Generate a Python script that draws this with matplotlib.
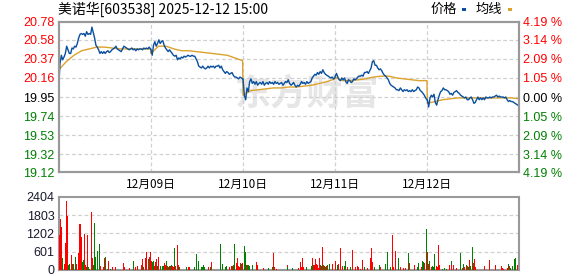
import numpy as np
import matplotlib
matplotlib.use('Agg')
import matplotlib.pyplot as plt
from matplotlib.patches import Rectangle

plt.rcParams['font.family'] = ['Noto Sans CJK SC', 'DejaVu Sans']

# ---------------- data ----------------
title_text = '美诺华[603538] 2025-12-12 15:00'
legend_price = '价格'
legend_avg = '均线'
watermark = '东方财富'
prev_close = 19.95
price_ticks = [20.78, 20.58, 20.37, 20.16, 19.95, 19.74, 19.53, 19.32, 19.12]
pct_labels = ['4.19 %', '3.14 %', '2.09 %', '1.05 %', '0.00 %',
              '1.05 %', '2.09 %', '3.14 %', '4.19 %']
date_labels = ['12月09日', '12月10日', '12月11日', '12月12日']
vol_ticks = [0, 601, 1202, 1803, 2404]
minutes_per_day = 240
n_days = 5

price_day1 = [20.06, 20.32, 20.41, 20.36, 20.39, 20.43, 20.51, 20.47, 20.43, 20.43,
              20.49, 20.48, 20.51, 20.50, 20.54, 20.60, 20.64, 20.65, 20.64, 20.65,
              20.62, 20.67, 20.64, 20.65, 20.64, 20.72, 20.66, 20.60, 20.52, 20.50,
              20.47, 20.43, 20.45, 20.43, 20.45, 20.43, 20.45, 20.46, 20.44, 20.45,
              20.47, 20.48, 20.49, 20.51, 20.48, 20.47, 20.46, 20.45, 20.48, 20.51,
              20.50, 20.49, 20.48, 20.47, 20.48, 20.49, 20.47, 20.48, 20.46, 20.48,
              20.47, 20.48, 20.48, 20.47, 20.49, 20.48, 20.49, 20.48, 20.50, 20.48]
price_day2 = [20.48, 20.41, 20.52, 20.56, 20.51, 20.54, 20.58, 20.54, 20.56, 20.57,
              20.52, 20.49, 20.47, 20.45, 20.47, 20.45, 20.43, 20.41, 20.40, 20.41,
              20.36, 20.38, 20.37, 20.39, 20.38, 20.40, 20.39, 20.40, 20.41, 20.40,
              20.40, 20.41, 20.40, 20.40, 20.37, 20.34, 20.29, 20.28, 20.27, 20.29,
              20.27, 20.26, 20.27, 20.29, 20.27, 20.29, 20.28, 20.29, 20.27, 20.29,
              20.29, 20.30, 20.27, 20.29, 20.25, 20.23, 20.21, 20.23, 20.22, 20.20,
              20.21, 20.22, 20.19, 20.17, 20.17, 20.16, 20.15, 20.17, 20.16, 20.15]
price_day3 = [20.15, 19.97, 19.92, 20.05, 20.01, 20.12, 20.15, 20.10, 20.12, 20.09,
              20.12, 20.08, 20.10, 20.11, 20.09, 20.12, 20.08, 20.10, 20.11, 20.09,
              20.12, 20.10, 20.11, 20.09, 20.12, 20.10, 20.11, 20.09, 20.10, 20.11,
              20.08, 20.10, 20.12, 20.11, 20.14, 20.10, 20.08, 20.09, 20.11, 20.08,
              20.06, 20.08, 20.07, 20.09, 20.12, 20.10, 20.11, 20.09, 20.12, 20.10,
              20.11, 20.12, 20.16, 20.18, 20.20, 20.19, 20.22, 20.20, 20.23, 20.21,
              20.25, 20.22, 20.20, 20.19, 20.18, 20.17, 20.16, 20.17, 20.15, 20.16]
price_day4 = [20.18, 20.21, 20.17, 20.14, 20.13, 20.16, 20.14, 20.16, 20.12, 20.10,
              20.14, 20.13, 20.11, 20.12, 20.15, 20.14, 20.15, 20.17, 20.18, 20.18,
              20.19, 20.18, 20.22, 20.22, 20.23, 20.21, 20.24, 20.27, 20.34, 20.35,
              20.30, 20.30, 20.27, 20.25, 20.26, 20.24, 20.21, 20.19, 20.18, 20.16,
              20.14, 20.10, 20.08, 20.07, 20.06, 20.05, 20.03, 20.03, 20.02, 20.05,
              20.03, 20.01, 20.03, 20.02, 20.03, 20.01, 20.02, 20.01, 20.03, 20.01,
              20.02, 20.03, 20.06, 20.05, 20.02, 20.01, 19.99, 19.97, 19.94, 19.92]
price_day5 = [19.92, 19.84, 19.94, 19.97, 19.95, 19.98, 19.89, 19.86, 19.92, 19.97,
              20.01, 20.02, 20.05, 20.03, 20.03, 20.02, 20.01, 19.98, 19.99, 19.97,
              20.00, 20.01, 20.02, 20.00, 19.99, 19.97, 19.96, 19.95, 19.94, 19.95,
              19.92, 19.92, 19.94, 19.95, 19.92, 19.88, 19.89, 19.92, 19.95, 19.92,
              19.94, 19.92, 19.94, 19.92, 19.95, 19.94, 19.94, 19.95, 19.94, 19.95,
              19.95, 19.96, 19.97, 19.95, 19.96, 19.95, 19.95, 19.95, 19.94, 19.95,
              19.92, 19.90, 19.91, 19.90, 19.90, 19.89, 19.88, 19.87, 19.86, 19.86]

avg_day1 = [20.25, 20.34, 20.41, 20.46, 20.48, 20.50, 20.50, 20.49, 20.48, 20.48, 20.48, 20.48, 20.48]
avg_day2 = [20.43, 20.51, 20.51, 20.48, 20.46, 20.46, 20.45, 20.44, 20.43, 20.42, 20.41, 20.38, 20.35]
avg_day3 = [19.97, 20.02, 20.03, 20.04, 20.05, 20.05, 20.06, 20.06, 20.07, 20.08, 20.10, 20.12, 20.15]
avg_day4 = [20.17, 20.13, 20.13, 20.14, 20.15, 20.17, 20.18, 20.18, 20.16, 20.15, 20.14, 20.13, 20.13]
avg_day5 = [19.88, 19.90, 19.92, 19.93, 19.94, 19.94, 19.94, 19.94, 19.94, 19.94, 19.94, 19.94, 19.93]

# volume bars: minute index (0..1199), volume, colour (r = up, g = down)
vol_minute = [2, 4, 7, 10, 14, 18, 21, 23, 26, 29, 33, 36, 38, 43, 46, 51, 54, 57, 60, 62,
              65, 68, 70, 73, 75, 78, 81, 86, 88, 91, 94, 96, 100, 102, 105, 107, 110, 116, 119, 121,
              126, 130, 135, 139, 144, 149, 168, 171, 178, 184, 194, 199, 205, 209, 216, 218, 222, 225, 228, 230,
              234, 236, 240, 242, 245, 248, 250, 253, 255, 258, 261, 265, 270, 273, 276, 279, 281, 284, 287, 289,
              292, 294, 297, 300, 302, 305, 310, 313, 315, 332, 338, 340, 353, 360, 363, 365, 368, 372, 375, 377,
              380, 390, 395, 397, 421, 426, 434, 436, 444, 449, 452, 455, 457, 462, 465, 468, 470, 473, 475, 478,
              480, 483, 486, 488, 491, 494, 496, 504, 514, 517, 533, 546, 557, 559, 562, 567, 592, 595, 597, 610,
              625, 630, 633, 636, 638, 646, 658, 661, 663, 666, 669, 671, 674, 676, 679, 681, 684, 687, 689, 692,
              695, 697, 700, 705, 709, 714, 717, 720, 722, 725, 728, 730, 733, 735, 738, 740, 745, 748, 753, 756,
              761, 764, 766, 769, 772, 777, 780, 782, 785, 790, 792, 795, 797, 805, 813, 815, 818, 823, 834, 836,
              839, 852, 857, 863, 865, 870, 873, 878, 881, 884, 886, 889, 897, 902, 907, 912, 914, 926, 928, 935,
              938, 941, 944, 947, 949, 952, 954, 957, 960, 962, 965, 967, 970, 973, 975, 978, 980, 983, 986, 988,
              991, 999, 1004, 1010, 1017, 1022, 1024, 1027, 1032, 1037, 1046, 1051, 1054, 1056, 1062, 1065, 1067, 1070, 1072, 1077,
              1080, 1082, 1085, 1110, 1121, 1137, 1153, 1156, 1158, 1165, 1168, 1171, 1173, 1176, 1178, 1181, 1183, 1186, 1189, 1191,
              1194]
vol_value = [1135, 1658, 1425, 400, 190, 880, 2270, 1760, 180, 210, 490, 200, 210, 420, 190, 545, 1525, 1525, 1090, 270,
             320, 1180, 155, 90, 1157, 90, 45, 1915, 400, 155, 1547, 420, 623, 210, 155, 846, 135, 100, 378, 420,
             45, 290, 45, 110, 90, 110, 220, 90, 155, 65, 290, 110, 135, 90, 180, 356, 90, 378, 580, 356,
             345, 420, 580, 290, 270, 290, 120, 270, 345, 135, 420, 120, 135, 135, 220, 180, 290, 135, 110, 135,
             135, 155, 135, 110, 735, 135, 823, 155, 90, 90, 90, 90, 90, 512, 290, 245, 270, 90, 100, 155,
             90, 90, 90, 270, 857, 210, 100, 135, 100, 135, 135, 155, 857, 220, 400, 120, 100, 220, 210, 220,
             768, 800, 600, 180, 180, 155, 135, 180, 270, 155, 65, 65, 90, 545, 100, 45, 100, 155, 100, 65,
             65, 270, 100, 400, 100, 100, 135, 400, 180, 155, 356, 200, 155, 65, 378, 180, 135, 768, 155, 135,
             110, 135, 180, 200, 110, 210, 270, 180, 300, 155, 210, 135, 155, 735, 135, 110, 135, 300, 100, 135,
             100, 210, 657, 110, 100, 135, 100, 155, 45, 135, 320, 356, 90, 65, 400, 735, 270, 90, 100, 155,
             100, 190, 600, 90, 90, 1135, 90, 623, 155, 400, 135, 100, 65, 65, 100, 556, 220, 155, 155, 100,
             220, 356, 100, 290, 270, 220, 490, 1358, 580, 210, 290, 445, 100, 135, 110, 512, 100, 135, 100, 823,
             180, 45, 65, 45, 155, 290, 155, 155, 100, 65, 556, 65, 190, 100, 155, 135, 100, 320, 135, 768,
             220, 356, 100, 135, 320, 155, 135, 65, 45, 456, 65, 210, 135, 65, 100, 135, 65, 356, 400, 420,
             155]
vol_color = ('rrrgrrrrgg' 'rgrgrrrrrg' 'grrgrggrrg' 'ggggrgrrrg' 'grgrrrrrgr'
             'grrrrrgrrr' 'grrrggrrrg' 'rgggrrgrrg' 'rgrrgrrrgg' 'rrgggggggg'
             'grgrggggrr' 'rggrrrrrgr' 'ggggrgggrr' 'rggrrrrrgg' 'rrrrrggrgr'
             'rrrrrgrrgr' 'grggrrrgrg' 'rrgrgrggrg' 'ggrrrrrrrr' 'rrgrrrrggg'
             'rggggrrrgg' 'grrrrgrrrg' 'ggrggrrgrr' 'grrgggrrrr' 'rgggrgrrrr'
             'grgrgrgrgg' 'rrrrrrrrrg' 'rgrgrggggg' 'r')

# ---------------- derived positions ----------------
price_days = [price_day1, price_day2, price_day3, price_day4, price_day5]
avg_days = [avg_day1, avg_day2, avg_day3, avg_day4, avg_day5]
t_price = np.concatenate([d * minutes_per_day + np.linspace(0.5, minutes_per_day - 0.5, len(v))
                          for d, v in enumerate(price_days)])
y_price = np.concatenate(price_days)
t_avg = np.concatenate([d * minutes_per_day + np.linspace(0.5, minutes_per_day - 0.5, len(v))
                        for d, v in enumerate(avg_days)])
y_avg = np.concatenate(avg_days)

bar_colors = ['#ff0000' if c == 'r' else '#008000' for c in vol_color]

# ---------------- figure ----------------
W, H = 578, 276
fig = plt.figure(figsize=(W / 100, H / 100), dpi=100)
fig.patch.set_facecolor('white')

L, R = 58.5, 519.3
ax = fig.add_axes([L / W, 1 - 172.3 / H, (R - L) / W, (172.3 - 21.7) / H])
axv = fig.add_axes([L / W, 1 - 270 / H, (R - L) / W, (270 - 196.7) / H])

frame_col = '#999999'
grid_col = '#d0d0d0'
red = '#ff0000'
green = '#008000'
blue = '#0a4f9e'
gold = '#dca22c'

total = minutes_per_day * n_days

# watermark
ax.text(0.54, 0.52, watermark, transform=ax.transAxes, fontsize=26, fontweight='bold',
        color='#e6e6e6', ha='center', va='center', zorder=0)

ax.plot(t_avg, y_avg, color=gold, lw=1.0, zorder=3)
ax.plot(t_price, y_price, color=blue, lw=1.0, zorder=4)
ax.set_xlim(0, total)
ax.set_ylim(price_ticks[-1], price_ticks[0])
ax.set_yticks(price_ticks)
ax.set_yticklabels([f'{v:.2f}' for v in price_ticks])
for lbl, v in zip(ax.get_yticklabels(), price_ticks):
    lbl.set_color(red if v > prev_close else ('black' if v == prev_close else green))
    lbl.set_fontfamily(['Liberation Sans'])
    lbl.set_fontsize(9)
day_bounds = [minutes_per_day * k for k in range(1, n_days)]
ax.set_xticks(day_bounds)
ax.set_xticklabels(date_labels, fontsize=8.5)
ax.tick_params(axis='both', length=0, pad=3)
ax.tick_params(axis='x', pad=4)
for v in price_ticks[1:-1]:
    ax.axhline(v, color=grid_col, lw=0.9, ls=(0, (3, 2)), zorder=1)
for b in day_bounds:
    ax.axvline(b, color=grid_col, lw=0.9, ls=(0, (3, 2)), zorder=1)

axr = ax.twinx()
axr.set_ylim(ax.get_ylim())
axr.set_yticks(price_ticks)
axr.set_yticklabels(pct_labels)
for lbl, v in zip(axr.get_yticklabels(), price_ticks):
    lbl.set_color(red if v > prev_close else ('black' if v == prev_close else green))
    lbl.set_fontfamily(['Liberation Sans'])
    lbl.set_fontsize(9)
axr.tick_params(axis='y', length=0, pad=3)

for a in (ax, axr, axv):
    for s in a.spines.values():
        s.set_color(frame_col)
        s.set_linewidth(1.5)

# volume
axv.bar(np.array(vol_minute) + 0.5, vol_value, width=2.3, color=bar_colors, linewidth=0, zorder=3)
axv.set_xlim(0, total)
axv.set_ylim(vol_ticks[0], vol_ticks[-1])
axv.set_yticks(vol_ticks)
axv.set_yticklabels([str(v) for v in vol_ticks], fontsize=9, color='#1a1a2e', family=['Liberation Sans'])
axv.set_xticks([])
axv.tick_params(axis='y', length=0, pad=3)
for v in vol_ticks[1:-1]:
    axv.axhline(v, color=grid_col, lw=0.9, ls=(0, (3, 2)), zorder=1)

# title and legend
fig.text(58 / W, 1 - 9 / H, title_text, fontsize=10, ha='left', va='center', color='black')
fig.text(431 / W, 1 - 9 / H, legend_price, fontsize=9.5, ha='left', va='center', color='black')
fig.patches.append(Rectangle((462 / W, 1 - 11 / H), 4 / W, 3 / H, transform=fig.transFigure,
                             facecolor=blue, edgecolor='none'))
fig.text(476 / W, 1 - 9 / H, legend_avg, fontsize=9.5, ha='left', va='center', color='black')
fig.patches.append(Rectangle((508 / W, 1 - 11 / H), 4 / W, 3 / H, transform=fig.transFigure,
                             facecolor=gold, edgecolor='none'))

fig.savefig('out.png', dpi=100, facecolor='white')
